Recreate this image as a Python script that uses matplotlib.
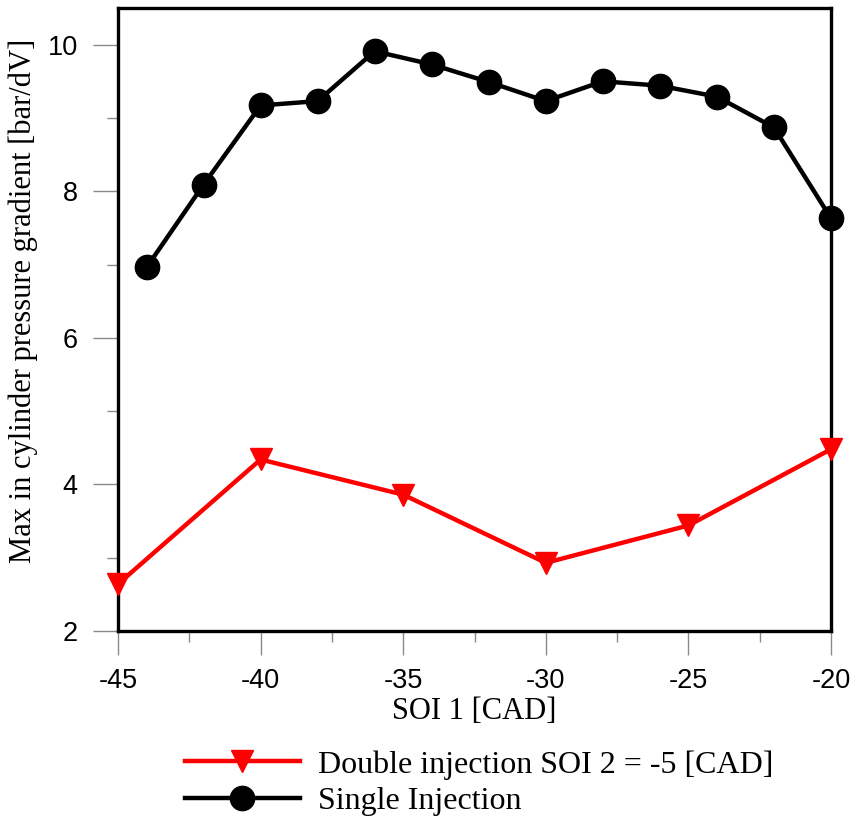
import matplotlib
matplotlib.use("Agg")
import matplotlib.pyplot as plt
from matplotlib.ticker import MultipleLocator

plt.rcParams["axes.unicode_minus"] = False

# SOI 1 timing [CAD]
soi_single = [-44, -42, -40, -38, -36, -34, -32, -30, -28, -26, -24, -22, -20]
grad_single = [6.96, 8.09, 9.17, 9.23, 9.91, 9.73, 9.49, 9.23, 9.50, 9.44, 9.29, 8.87, 7.63]

soi_double = [-45, -40, -35, -30, -25, -20]
grad_double = [2.64, 4.34, 3.86, 2.93, 3.44, 4.48]

label_double = "Double injection SOI 2 = -5 [CAD]"
label_single = "Single Injection"
xlabel = "SOI 1 [CAD]"
ylabel = "Max in cylinder pressure gradient [bar/dV]"

serif = ["Liberation Serif", "DejaVu Serif"]
sans = ["Liberation Sans", "DejaVu Sans"]

fig = plt.figure(figsize=(8.54, 8.16), dpi=100)
ax = fig.add_axes([118 / 854, 1 - 631 / 816, 713 / 854, 623 / 816])

l_double, = ax.plot(soi_double, grad_double, color="#ff0000", lw=3.2,
                    marker="v", markersize=16, clip_on=False, zorder=3)
l_single, = ax.plot(soi_single, grad_single, color="black", lw=3.2,
                    marker="o", markersize=17.5, clip_on=False, zorder=4)

ax.set_xlim(-45, -20)
ax.set_ylim(2, 10.5)
ax.xaxis.set_major_locator(MultipleLocator(5))
ax.xaxis.set_minor_locator(MultipleLocator(2.5))
ax.yaxis.set_major_locator(MultipleLocator(2))
ax.yaxis.set_minor_locator(MultipleLocator(1))

for s in ax.spines.values():
    s.set_linewidth(2.4)
    s.set_color("black")

ax.tick_params(which="major", direction="out", length=17, width=1.0,
               color="#8a8a8a", pad=10)
ax.tick_params(which="minor", direction="out", length=8, width=1.0,
               color="#8a8a8a")
ax.tick_params(axis="y", which="major", length=18, pad=11)
for lab in ax.get_xticklabels() + ax.get_yticklabels():
    lab.set_fontfamily(sans)
    lab.set_fontsize(19.5)

ax.set_xlabel(xlabel, fontfamily=serif, fontsize=22)
ax.set_ylabel(ylabel, fontfamily=serif, fontsize=22)
ax.xaxis.set_label_coords(0.5, -0.106)
ax.yaxis.set_label_coords(-0.112, 0.53)

fig.legend([l_double, l_single], [label_double, label_single],
           loc="center left", bbox_to_anchor=(185 / 854, 1 - 783 / 816),
           frameon=False, borderpad=0, borderaxespad=0, handlelength=3.6,
           handletextpad=0.55, labelspacing=0.22,
           prop={"family": serif, "size": 23})

fig.savefig("out.png", dpi=100)
